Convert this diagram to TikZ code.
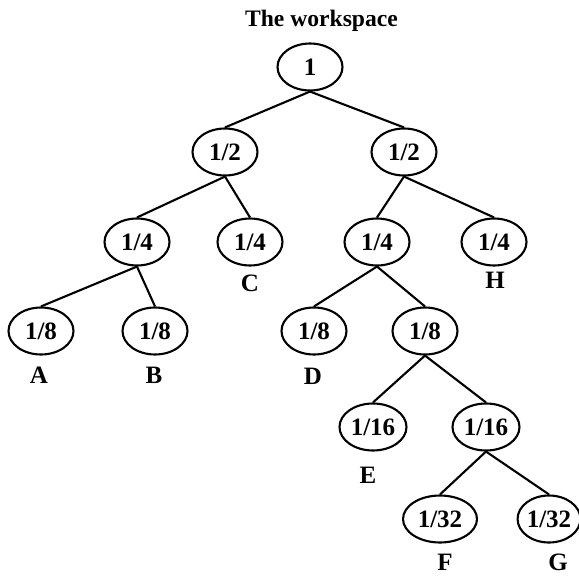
\documentclass[tikz,border=0pt]{standalone}
\usepackage{fontspec}
\setmainfont{Liberation Serif}
\usetikzlibrary{shapes.geometric}

\tikzset{
  share/.style={draw, ellipse, line width=2.1bp, inner sep=0pt,
    minimum width=65bp, minimum height=47bp,
    font=\fontsize{25bp}{28bp}\selectfont\bfseries},
  leaf/.style={inner sep=0pt, font=\fontsize{25bp}{28bp}\selectfont\bfseries},
  branch/.style={line width=2.1bp}
}

\begin{document}
\begin{tikzpicture}[x=1bp, y=-1bp]
  \useasboundingbox (0,0) rectangle (579,576);

  % heading
  \node[leaf, anchor=base, font=\fontsize{23.6bp}{28bp}\selectfont\bfseries]
    (title) at (321.5,27) {The workspace};

  % the halving tree
  \node[share] (r)    at (310,67)  {1};
  \node[share] (l1)   at (225,152) {1/2};
  \node[share] (r1)   at (404,152) {1/2};
  \node[share] (ll2)  at (137,242) {1/4};
  \node[share] (lr2)  at (250,242) {1/4};
  \node[share] (rl2)  at (377,242) {1/4};
  \node[share] (rr2)  at (494,242) {1/4};
  \node[share] (a8)   at (41,331)  {1/8};
  \node[share] (b8)   at (155,331) {1/8};
  \node[share] (d8)   at (314,331) {1/8};
  \node[share] (x8)   at (425,331) {1/8};
  \node[share, minimum width=67bp] (e16) at (373,427) {1/16};
  \node[share, minimum width=67bp] (x16) at (486,427) {1/16};
  \node[share, minimum width=74bp] (f32) at (440,519) {1/32};
  \node[share, minimum width=60bp] (g32) at (549,519) {1/32};

  % branches
  \draw[branch] (r.south)   -- (l1.north);
  \draw[branch] (r.south)   -- (r1.north);
  \draw[branch] (l1.south)  -- (ll2.north);
  \draw[branch] (l1.south)  -- (lr2.north);
  \draw[branch] (r1.south)  -- (rl2.north);
  \draw[branch] (r1.south)  -- (rr2.north);
  \draw[branch] (ll2.south) -- (a8.north);
  \draw[branch] (ll2.south) -- (b8.north);
  \draw[branch] (rl2.south) -- (d8.north);
  \draw[branch] (rl2.south) -- (x8.north);
  \draw[branch] (x8.south)  -- (e16.north);
  \draw[branch] (x8.south)  -- (x16.north);
  \draw[branch] (x16.south) -- (f32.north);
  \draw[branch] (x16.south) -- (g32.north);

  % leaf names
  \node[leaf] (la) at (39,375)  {A};
  \node[leaf] (lb) at (154,375) {B};
  \node[leaf] (lc) at (250,283) {C};
  \node[leaf] (ld) at (313,376) {D};
  \node[leaf] (le) at (368,475) {E};
  \node[leaf] (lf) at (445,562) {F};
  \node[leaf] (lg) at (558,562) {G};
  \node[leaf] (lh) at (495,280) {H};
\end{tikzpicture}
\end{document}
